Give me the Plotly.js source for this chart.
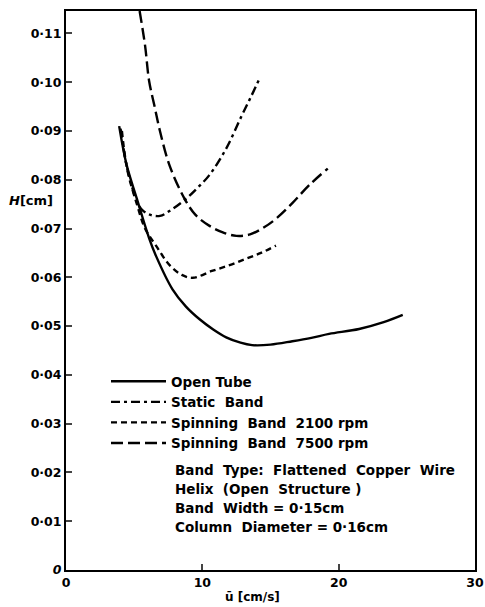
<!DOCTYPE html>
<html>
<head>
<meta charset="utf-8">
<script src="https://cdn.plot.ly/plotly-3.0.1.min.js"></script>
<style>html,body{margin:0;padding:0;background:#fff;}#chart{width:485px;height:607px;}</style>
</head>
<body>
<div id="chart"></div>
<script>
// ---- data ----
const seriesNames = ["Open Tube", "Static  Band", "Spinning  Band  2100 rpm", "Spinning  Band  7500 rpm"];

const openTubeX = [3.9, 4.45, 5.2, 6.1, 6.6, 7.8, 8.8, 9.8, 10.8, 11.75, 12.8, 13.65, 15.0, 16.6, 18.0, 19.3, 21.5, 23.3, 24.7];
const openTubeY = [0.091, 0.083, 0.0761, 0.068, 0.0644, 0.0576, 0.054, 0.0514, 0.0493, 0.0477, 0.0466, 0.0461, 0.0462, 0.0469, 0.0476, 0.0484, 0.0494, 0.0508, 0.0523];

const staticX = [4.0, 4.4, 4.8, 5.2, 5.6, 6.2, 6.9, 7.8, 8.8, 9.7, 10.5, 11.75, 12.9, 13.6, 14.2];
const staticY = [0.0905, 0.0835, 0.079, 0.0755, 0.0738, 0.0728, 0.0726, 0.074, 0.0761, 0.0785, 0.0809, 0.0864, 0.0932, 0.0972, 0.1008];

const rpm2100X = [4.1, 4.5, 5.2, 5.8, 6.6, 7.6, 8.5, 9.3, 10.7, 12.0, 13.2, 14.3, 15.4];
const rpm2100Y = [0.090, 0.082, 0.075, 0.070, 0.0665, 0.0625, 0.0605, 0.0599, 0.0613, 0.0625, 0.0638, 0.065, 0.0665];

const rpm7500X = [5.4, 5.8, 6.1, 6.5, 6.9, 7.6, 8.7, 9.5, 10.5, 11.5, 12.5, 13.5, 14.5, 15.4, 16.6, 17.8, 19.2];
const rpm7500Y = [0.1146, 0.1075, 0.1002, 0.095, 0.0899, 0.0829, 0.0761, 0.0728, 0.0706, 0.0692, 0.0685, 0.0688, 0.0702, 0.072, 0.0752, 0.0788, 0.0823];

const xTickVals = [0, 10, 20, 30];
const xTickText = ["0", "10", "20", "30"];
const yTickVals = [0, 0.01, 0.02, 0.03, 0.04, 0.05, 0.06, 0.07, 0.08, 0.09, 0.10, 0.11];
const yTickText = ["<i>0</i>", "0·01", "0·02", "0·03", "0·04", "0·05", "0·06", "0·07", "0·08", "0·09", "0·10", "0·11"];

const noteLines = [
  "Band  Type:  Flattened  Copper  Wire",
  "Helix  (Open  Structure )",
  "Band  Width = 0·15cm",
  "Column  Diameter = 0·16cm"
];

// ---- chart ----
const FONT = "DejaVu Sans, sans-serif";
const lineW = 2.4;
const traces = [
  {x: openTubeX, y: openTubeY, name: seriesNames[0], mode: "lines",
   line: {color: "#000", width: lineW, shape: "spline", dash: "solid"}},
  {x: staticX, y: staticY, name: seriesNames[1], mode: "lines",
   line: {color: "#000", width: lineW, shape: "spline", dash: "9px,4px,3px,4px"}},
  {x: rpm2100X, y: rpm2100Y, name: seriesNames[2], mode: "lines",
   line: {color: "#000", width: lineW, shape: "spline", dash: "6px,4px"}},
  {x: rpm7500X, y: rpm7500Y, name: seriesNames[3], mode: "lines",
   line: {color: "#000", width: lineW, shape: "spline", dash: "12px,5px"}}
];

const annotations = noteLines.map((t, i) => ({
  text: t, xref: "paper", yref: "paper", x: (173 - 66) / 409, y: (570 - (470 + i * 19)) / 559,
  xanchor: "left", yanchor: "middle", showarrow: false, align: "left",
  font: {family: FONT, size: 13.5, color: "#000", weight: "bold"}
}));
annotations.push({text: "<i>H</i>[cm]", xref: "paper", yref: "paper", x: (7 - 66) / 409, y: (570 - 200) / 559,
  xanchor: "left", yanchor: "middle", showarrow: false,
  font: {family: FONT, size: 13, color: "#000", weight: "bold"}});
annotations.push({text: "ū [cm/s]", xref: "paper", yref: "paper", x: (252 - 66) / 409, y: (570 - 597) / 559,
  xanchor: "center", yanchor: "middle", showarrow: false,
  font: {family: FONT, size: 12, color: "#000", weight: "bold"}});

const layout = {
  width: 485, height: 607,
  margin: {l: 66, r: 10, t: 11, b: 37},
  paper_bgcolor: "#fff", plot_bgcolor: "#fff",
  font: {family: FONT, size: 12, color: "#000", weight: "bold"},
  showlegend: true,
  legend: {x: (106 - 66) / 409, y: (570 - 366) / 559, xanchor: "left", yanchor: "top",
    bgcolor: "rgba(0,0,0,0)", borderwidth: 0, tracegroupgap: 0, itemwidth: 55,
    font: {family: FONT, size: 13.5, color: "#000", weight: "bold"}},
  xaxis: {range: [0, 30], tickvals: xTickVals, ticktext: xTickText, ticks: "inside", ticklen: 6, tickwidth: 2,
    showline: true, linewidth: 2, linecolor: "#000", mirror: true, showgrid: false, zeroline: false,
    tickfont: {family: FONT, size: 12.5, color: "#000", weight: "bold"}},
  yaxis: {range: [0, 0.1146], tickvals: yTickVals, ticktext: yTickText, ticks: "inside", ticklen: 6, tickwidth: 2,
    showline: true, linewidth: 2, linecolor: "#000", mirror: true, showgrid: false, zeroline: false,
    tickfont: {family: FONT, size: 12.5, color: "#000", weight: "bold"}},
  annotations: annotations
};

Plotly.newPlot("chart", traces, layout, {displayModeBar: false, staticPlot: true});
</script>
</body>
</html>
